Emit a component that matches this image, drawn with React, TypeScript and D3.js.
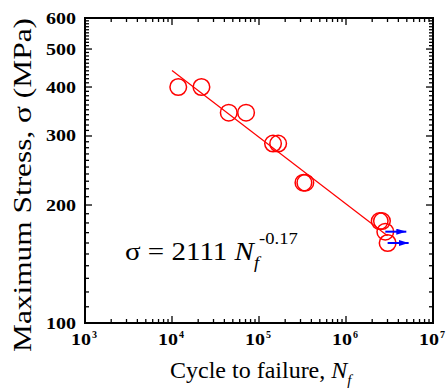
import React from 'react';
import * as d3 from 'd3';

// cycles to failure and stress amplitude
const cycles = [11800, 21800, 44900, 71000, 145000, 166000, 324000, 341000, 2440000, 2590000, 2830000, 3010000];
const stress = [400, 400, 344, 344, 287, 287, 228, 228, 182, 182, 171, 160];
const runout = [false, false, false, false, false, false, false, false, false, false, true, true];

// fitted line end points (sigma = 2111 Nf^-0.17)
const fitCycles = [10000, 3000000];
const fitStress = [441, 167];

const xMajor = [1e3, 1e4, 1e5, 1e6, 1e7];
const xExponents = ['3', '4', '5', '6', '7'];
const yMajor = [100, 200, 300, 400, 500, 600];

const W = 447;
const H = 388;
const margin = { top: 18, right: 14, bottom: 65, left: 85 };

export default function App() {
  const x = d3.scaleLog().domain([1e3, 1e7]).range([margin.left, W - margin.right]);
  const y = d3.scaleLog().domain([100, 600]).range([H - margin.bottom, margin.top]);
  const [x0, x1] = x.range();
  const [y0, y1] = y.range();

  const xMinor: number[] = [];
  for (let e = 3; e < 7; e++) for (let m = 2; m <= 9; m++) xMinor.push(m * 10 ** e);
  const yMinor: number[] = [];
  for (let v = 110; v < 600; v += 10) if (v % 100 !== 0) yMinor.push(v);

  const line = d3.line<number>()
    .x((_, i) => x(fitCycles[i]))
    .y((_, i) => y(fitStress[i]));

  const font = '"Liberation Serif", "Times New Roman", serif';

  return (
    <svg width={W} height={H} style={{ position: 'absolute', left: 0, top: 0 }} fontFamily={font}>
      <defs>
        <marker id="arr" viewBox="0 0 10 6" refX="10" refY="3" markerWidth="10" markerHeight="6" markerUnits="userSpaceOnUse" orient="auto">
          <path d="M0,0 L10,3 L0,6 Z" fill="#0000ff" />
        </marker>
      </defs>

      {/* ticks, all pointing inward, mirrored on top and right */}
      <g stroke="#000" strokeWidth={1.3}>
        {xMajor.map(v => (
          <g key={'xM' + v}>
            <line x1={x(v)} x2={x(v)} y1={y0} y2={y0 - 7} />
            <line x1={x(v)} x2={x(v)} y1={y1} y2={y1 + 7} />
          </g>
        ))}
        {xMinor.map(v => (
          <g key={'xm' + v}>
            <line x1={x(v)} x2={x(v)} y1={y0} y2={y0 - 4} />
            <line x1={x(v)} x2={x(v)} y1={y1} y2={y1 + 4} />
          </g>
        ))}
        {yMajor.map(v => (
          <g key={'yM' + v}>
            <line x1={x0} x2={x0 + 7} y1={y(v)} y2={y(v)} />
            <line x1={x1} x2={x1 - 7} y1={y(v)} y2={y(v)} />
          </g>
        ))}
        {yMinor.map(v => (
          <g key={'ym' + v}>
            <line x1={x0} x2={x0 + 4} y1={y(v)} y2={y(v)} />
            <line x1={x1} x2={x1 - 4} y1={y(v)} y2={y(v)} />
          </g>
        ))}
      </g>
      <rect x={x0} y={y1} width={x1 - x0} height={y0 - y1} fill="none" stroke="#000" strokeWidth={2} />

      {/* tick labels */}
      <g fontWeight="bold" fontSize={16}>
        {yMajor.map(v => (
          <text key={'yl' + v} x={76} y={y(v) + 5.5} textAnchor="end" textLength={30} lengthAdjust="spacingAndGlyphs">{v}</text>
        ))}
        {xMajor.map((v, i) => (
          <g key={'xl' + v} transform={`translate(${x(v) - 14},${y0 + 22})`}>
            <text x={0} y={0} textLength={20} lengthAdjust="spacingAndGlyphs">10</text>
            <text x={21} y={-7} fontSize={10}>{xExponents[i]}</text>
          </g>
        ))}
      </g>

      {/* axis titles */}
      <text transform="translate(31,185) rotate(-90)" textAnchor="middle" fontSize={25} textLength={334} lengthAdjust="spacingAndGlyphs">
        Maximum Stress, σ (MPa)
      </text>
      <text x={170} y={378} fontSize={24}>
        Cycle to failure, <tspan fontStyle="italic">N</tspan>
        <tspan fontStyle="italic" fontSize={15} dy={7}>f</tspan>
      </text>

      {/* fit line and data */}
      <path d={line(fitCycles) || ''} fill="none" stroke="#ff0000" strokeWidth={1.2} />
      {cycles.map((c, i) => (
        <circle key={'c' + i} cx={x(c)} cy={y(stress[i])} r={8.3} fill="none" stroke="#ff0000" strokeWidth={1.5} />
      ))}
      {cycles.map((c, i) => runout[i] ? (
        <line key={'a' + i} x1={x(c)} x2={x(c) + 21} y1={y(stress[i])} y2={y(stress[i])} stroke="#0000ff" strokeWidth={2} markerEnd="url(#arr)" />
      ) : null)}

      {/* equation */}
      <g transform="translate(125,260) scale(1.16,1)">
        <text x={0} y={0} fontSize={25}>
          σ = 2111 <tspan fontStyle="italic">N</tspan>
          <tspan fontStyle="italic" fontSize={16} dy={8}>f</tspan>
          <tspan fontSize={16} dy={-24}>-0.17</tspan>
        </text>
      </g>
    </svg>
  );
}
